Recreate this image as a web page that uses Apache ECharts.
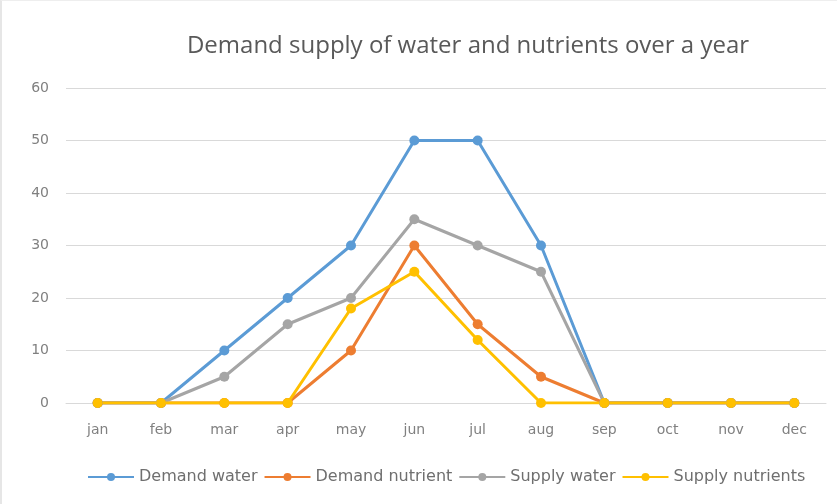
<!DOCTYPE html>
<html><head><meta charset="utf-8">
<script src="https://cdn.jsdelivr.net/npm/echarts@6/dist/echarts.min.js"></script>
<style>html,body{margin:0;padding:0;background:#fff}#c{width:837px;height:504px;box-sizing:border-box;border-left:2px solid #e6e6e6;border-top:1px solid #eeeeee}</style>
</head><body><div id="c"></div>
<script>
const categories = ['jan','feb','mar','apr','may','jun','jul','aug','sep','oct','nov','dec'];
const demandWater = [0,0,10,20,30,50,50,30,0,0,0,0];
const demandNutrient = [0,0,0,0,10,30,15,5,0,0,0,0];
const supplyWater = [0,0,5,15,20,35,30,25,0,0,0,0];
const supplyNutrients = [0,0,0,0,18,25,12,0,0,0,0,0];
const seriesNames = ['Demand water','Demand nutrient','Supply water','Supply nutrients'];
const colors = ['#5B9BD5','#ED7D31','#A5A5A5','#FFC000'];
const chart = echarts.init(document.getElementById('c'));
const mk = (name, data, color) => ({
  name, type:'line', data, symbol:'circle', symbolSize:10,
  lineStyle:{width:3,color}, itemStyle:{color}
});
chart.setOption({
  animation:false,
  color: colors,
  title:{text:'Demand supply of water and nutrients over a year', left:461, textAlign:'center', top:28,
    textStyle:{fontFamily:'Open Sans', fontSize:24, fontWeight:'normal', color:'#595959'}},
  legend:{top:463, left:80, itemWidth:46, itemHeight:10, itemGap:6,
    textStyle:{fontFamily:'DejaVu Sans', fontSize:16, color:'#6f6f6f'}},
  grid:{left:64, right:11, top:87, bottom:101},
  xAxis:{type:'category', data:categories, boundaryGap:true,
    axisLine:{show:true, lineStyle:{color:'#d9d9d9'}}, axisTick:{show:false},
    axisLabel:{fontFamily:'DejaVu Sans', fontSize:14, color:'#808080', margin:20}},
  yAxis:{type:'value', min:0, max:60, interval:10,
    axisLine:{show:false}, axisTick:{show:false},
    splitLine:{lineStyle:{color:'#d9d9d9', width:1}},
    axisLabel:{fontFamily:'DejaVu Sans', fontSize:14, color:'#808080', margin:17}},
  series:[
    mk(seriesNames[0], demandWater, colors[0]),
    mk(seriesNames[1], demandNutrient, colors[1]),
    mk(seriesNames[2], supplyWater, colors[2]),
    mk(seriesNames[3], supplyNutrients, colors[3])
  ]
});
</script></body></html>
